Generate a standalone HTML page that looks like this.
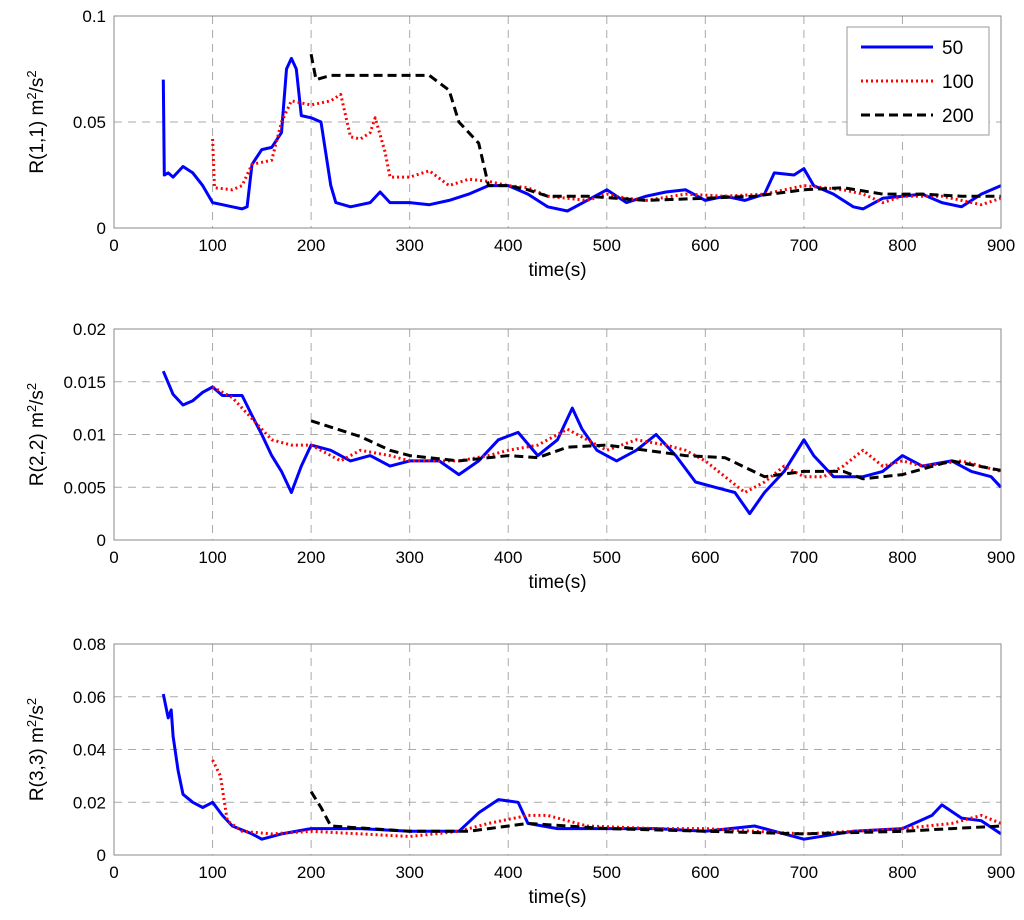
<!DOCTYPE html>
<html><head><meta charset="utf-8"><style>
body{margin:0;background:#fff;}
svg{display:block;font-family:"Liberation Sans",sans-serif;}
</style></head><body>
<svg id="c" width="1024" height="920"></svg>
<script>
// Panel 1 data (time, R(1,1))
const p1BlueT=[50,51,55,60,70,80,90,100,110,120,130,135,140,150,160,170,175,180,185,190,200,210,220,225,240,260,270,280,300,320,340,360,380,400,420,440,460,480,500,520,540,560,580,600,620,640,660,670,690,700,710,730,750,760,780,800,820,840,860,880,900];
const p1BlueV=[0.07,0.025,0.026,0.024,0.029,0.026,0.02,0.012,0.011,0.01,0.009,0.01,0.03,0.037,0.038,0.045,0.075,0.08,0.075,0.053,0.052,0.05,0.02,0.012,0.01,0.012,0.017,0.012,0.012,0.011,0.013,0.016,0.02,0.02,0.016,0.01,0.008,0.013,0.018,0.012,0.015,0.017,0.018,0.013,0.015,0.013,0.016,0.026,0.025,0.028,0.02,0.016,0.01,0.009,0.014,0.015,0.016,0.012,0.01,0.016,0.02];
const p1RedT=[100,102,120,130,140,160,170,180,200,220,230,240,250,260,265,275,280,300,320,340,360,380,400,420,440,460,480,500,520,540,580,620,660,700,740,760,780,800,840,880,900];
const p1RedV=[0.042,0.019,0.018,0.02,0.03,0.032,0.05,0.06,0.058,0.06,0.063,0.043,0.042,0.045,0.052,0.036,0.024,0.024,0.027,0.02,0.023,0.022,0.02,0.019,0.015,0.014,0.013,0.016,0.014,0.013,0.016,0.015,0.016,0.02,0.018,0.016,0.012,0.015,0.015,0.011,0.014];
const p1BlackT=[200,205,220,280,320,340,350,370,380,400,420,440,480,540,600,650,700,740,780,820,860,900];
const p1BlackV=[0.082,0.07,0.072,0.072,0.072,0.065,0.05,0.04,0.02,0.02,0.018,0.015,0.015,0.013,0.014,0.015,0.018,0.019,0.016,0.016,0.015,0.015];
// Panel 2
const p2BlueT=[50,60,70,80,90,100,110,130,140,150,160,170,180,190,200,220,240,260,280,300,330,350,370,390,410,430,450,465,475,490,510,530,550,570,590,610,630,645,660,680,700,710,730,760,780,800,820,850,870,890,900];
const p2BlueV=[0.016,0.0138,0.0128,0.0132,0.014,0.0145,0.0137,0.0137,0.0118,0.01,0.008,0.0065,0.0045,0.007,0.009,0.0085,0.0075,0.008,0.007,0.0075,0.0075,0.0062,0.0075,0.0095,0.0102,0.008,0.0095,0.0125,0.0105,0.0085,0.0075,0.0085,0.01,0.008,0.0055,0.005,0.0045,0.0025,0.0045,0.0065,0.0095,0.008,0.006,0.006,0.0065,0.008,0.007,0.0075,0.0065,0.006,0.005];
const p2RedT=[100,120,140,160,180,200,230,250,280,300,350,380,400,430,460,480,500,530,560,580,600,640,660,680,700,720,740,760,780,800,820,860,900];
const p2RedV=[0.0145,0.0135,0.0115,0.0095,0.009,0.009,0.0075,0.0085,0.008,0.0075,0.0075,0.008,0.0085,0.009,0.0105,0.0095,0.0085,0.0095,0.009,0.0085,0.0075,0.0045,0.0055,0.007,0.006,0.006,0.007,0.0085,0.007,0.0075,0.007,0.0075,0.0065];
const p2BlackT=[200,250,280,300,350,400,430,460,500,540,580,620,660,700,740,760,800,850,900];
const p2BlackV=[0.0113,0.0098,0.0085,0.008,0.0075,0.008,0.0078,0.0088,0.009,0.0085,0.008,0.0078,0.006,0.0065,0.0065,0.0058,0.0062,0.0075,0.0066];
// Panel 3
const p3BlueT=[50,55,58,60,65,70,80,90,100,110,120,140,150,170,200,250,300,350,370,390,410,420,450,500,550,600,650,700,750,800,830,840,860,880,900];
const p3BlueV=[0.061,0.052,0.055,0.045,0.032,0.023,0.02,0.018,0.02,0.015,0.011,0.008,0.006,0.008,0.01,0.01,0.009,0.009,0.016,0.021,0.02,0.012,0.01,0.01,0.01,0.009,0.011,0.006,0.009,0.01,0.015,0.019,0.014,0.013,0.008];
const p3RedT=[100,108,115,130,160,200,250,300,350,380,420,440,480,550,600,700,750,800,850,880,900];
const p3RedV=[0.036,0.03,0.013,0.009,0.008,0.009,0.008,0.007,0.009,0.012,0.015,0.015,0.011,0.01,0.01,0.008,0.009,0.01,0.012,0.015,0.012];
const p3BlackT=[200,210,220,300,360,420,500,600,700,800,850,900];
const p3BlackV=[0.024,0.018,0.011,0.009,0.009,0.012,0.01,0.009,0.008,0.009,0.01,0.011];

const xTicks=[0,100,200,300,400,500,600,700,800,900];
const NS='http://www.w3.org/2000/svg';
const svg=document.getElementById('c');
function mk(tag,attrs,parent){const e=document.createElementNS(NS,tag);for(const k in attrs)e.setAttribute(k,attrs[k]);(parent||svg).appendChild(e);return e;}
const L=114,R=1001;
const panels=[
 {top:16,bot:228,max:0.1,ticks:[0,0.05,0.1],labels:['0','0.05','0.1'],idx:'1,1',series:[[p1BlueT,p1BlueV],[p1RedT,p1RedV],[p1BlackT,p1BlackV]]},
 {top:329,bot:540,max:0.02,ticks:[0,0.005,0.01,0.015,0.02],labels:['0','0.005','0.01','0.015','0.02'],idx:'2,2',series:[[p2BlueT,p2BlueV],[p2RedT,p2RedV],[p2BlackT,p2BlackV]]},
 {top:644,bot:855,max:0.08,ticks:[0,0.02,0.04,0.06,0.08],labels:['0','0.02','0.04','0.06','0.08'],idx:'3,3',series:[[p3BlueT,p3BlueV],[p3RedT,p3RedV],[p3BlackT,p3BlackV]]}
];
const styles=[{stroke:'#0000ff',w:3,dash:'',name:'series-50'},{stroke:'#ff0000',w:3,dash:'2 3',name:'series-100'},{stroke:'#000',w:3,dash:'9 5',name:'series-200'}];
panels.forEach((p,pi)=>{
 const g=mk('g',{});
 
 
 const xs=t=>L+(R-L)*t/900, ys=v=>p.bot-(p.bot-p.top)*v/p.max;
 mk('rect',{x:L,y:p.top,width:R-L,height:p.bot-p.top,fill:'#fff',stroke:'none'},g);
 xTicks.forEach(t=>{
  if(t>0&&t<900){const l=mk('line',{x1:xs(t),x2:xs(t),y1:p.top,y2:p.bot,stroke:'#aaa','stroke-dasharray':'8 6','stroke-width':1},g);}
  const tx=mk('text',{x:xs(t),y:p.bot+23,'text-anchor':'middle','font-size':17},g);tx.textContent=t;
  
 });
 p.ticks.forEach((v,i)=>{
  if(v>0&&v<p.max){const l=mk('line',{x1:L,x2:R,y1:ys(v),y2:ys(v),stroke:'#aaa','stroke-dasharray':'8 6','stroke-width':1},g);}
  const tx=mk('text',{x:L-8,y:ys(v)+6,'text-anchor':'end','font-size':17},g);tx.textContent=p.labels[i];
  
 });
 p.series.forEach((s,si)=>{
  const d=s[0].map((t,i)=>(i?'L':'M')+xs(t).toFixed(1)+' '+ys(s[1][i]).toFixed(1)).join(' ');
  const st=styles[si];
  const path=mk('path',{d:d,fill:'none',stroke:st.stroke,'stroke-width':st.w,'stroke-dasharray':st.dash,'stroke-linejoin':'round'},g);
  
  
 });
 const box=mk('rect',{x:L,y:p.top,width:R-L,height:p.bot-p.top,fill:'none',stroke:'#888','stroke-width':1},g);
 
 const xl=mk('text',{x:(L+R)/2,y:p.bot+48,'text-anchor':'middle','font-size':19},g);xl.textContent='time(s)';
 
 const cy=(p.top+p.bot)/2;
 const yl=mk('text',{x:0,y:0,'text-anchor':'middle','font-size':19,transform:`translate(43,${cy}) rotate(-90)`},g);
 yl.innerHTML=`R(${p.idx}) m<tspan dy="-7" font-size="13">2</tspan><tspan dy="7">/s</tspan><tspan dy="-7" font-size="13">2</tspan>`;
 
});
// legend
const lg=mk('g',{});


mk('rect',{x:847,y:27,width:142,height:108,fill:'#fff',stroke:'#999'},lg);
['50','100','200'].forEach((lab,i)=>{
 const st=styles[i],y=47+i*34;
 const e=mk('g',{},lg);
 
 
 mk('line',{x1:861,x2:933,y1:y,y2:y,stroke:st.stroke,'stroke-width':3,'stroke-dasharray':st.dash},e);
 const t=mk('text',{x:942,y:y+7,'font-size':19},e);t.textContent=lab;
});
</script>
</body></html>
